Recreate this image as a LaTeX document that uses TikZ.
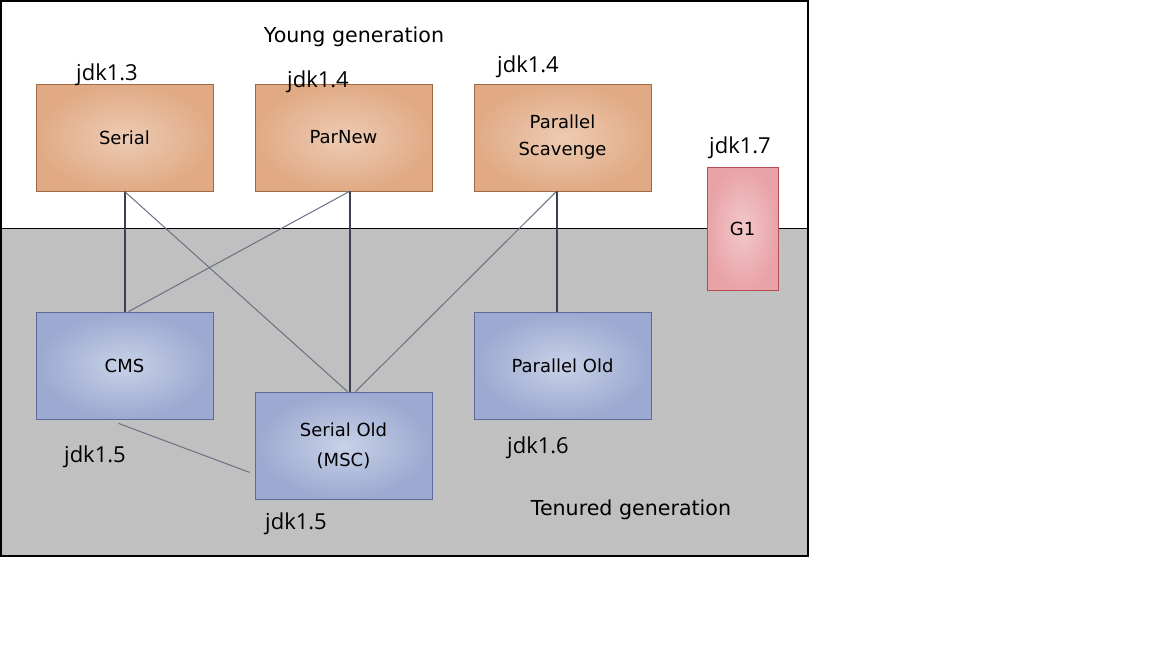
\documentclass[tikz,border=0pt]{standalone}
\usepackage{fontspec}
\setmainfont{Open Sans}
\newfontfamily\comicfont{DejaVu Sans}

\definecolor{youngin}{HTML}{EDCBB4}
\definecolor{youngout}{HTML}{E1AA84}
\definecolor{youngedge}{HTML}{A06A44}
\definecolor{oldin}{HTML}{C7D1E7}
\definecolor{oldout}{HTML}{9CA9D0}
\definecolor{oldedge}{HTML}{5A6A9A}
\definecolor{gin}{HTML}{F3C8CA}
\definecolor{gout}{HTML}{E8A3A7}
\definecolor{gedge}{HTML}{B84C50}
\definecolor{tenuredbg}{HTML}{C0C0C0}
\definecolor{linedark}{HTML}{3A4152}
\definecolor{linethin}{HTML}{687082}

\tikzset{
  gcbox/.style={draw, minimum width=88.5pt, minimum height=53.5pt,
    align=center, font=\comicfont\fontsize{9}{13.5}\selectfont},
  young/.style={gcbox, draw=youngedge, inner color=youngin, outer color=youngout},
  old/.style={gcbox, draw=oldedge, inner color=oldin, outer color=oldout},
  jdk/.style={font=\fontsize{11}{13}\selectfont, inner sep=0pt},
  gentitle/.style={font=\comicfont\fontsize{10.3}{12}\selectfont},
  heavy/.style={draw=linedark, line width=1pt},
  thin/.style={draw=linethin, line width=0.5pt}
}

\begin{document}
\begin{tikzpicture}[x=0.5pt, y=-0.5pt]
    \useasboundingbox (0,0) rectangle (1152,648);
    \fill[tenuredbg] (1,228) rectangle (808,556);
    \draw[line width=0.5pt] (1,228) -- (808,228);
    \draw[line width=1pt] (1,1) rectangle (808,556);

    \node[gentitle] (youngtitle) at (354,37) {Young generation};
    \node[gentitle] (tenuredtitle) at (631,510) {Tenured generation};

    \node[young] (serial) at (124.5,137.5) {Serial};
    \node[young] (parnew) at (343.5,137.5) {ParNew};
    \node[young] (pscavenge) at (562.5,137.5) {Parallel\\Scavenge};
    \node[gcbox, draw=gedge, inner color=gin, outer color=gout,
      minimum width=35.5pt, minimum height=61.5pt] (g1) at (742.5,228.5) {G1};
    \node[old] (cms) at (124.5,365.5) {CMS};
    \node[old] (serialold) at (343.5,445.5) {Serial Old\\[1.5pt](MSC)};
    \node[old] (parold) at (562.5,365.5) {Parallel Old};

    \node[jdk] (jdkserial) at (107,75) {jdk1.3};
    \node[jdk] (jdkparnew) at (318,82) {jdk1.4};
    \node[jdk] (jdkpscavenge) at (528,67) {jdk1.4};
    \node[jdk] (jdkgone) at (740,148) {jdk1.7};
    \node[jdk] (jdkcms) at (95,457) {jdk1.5};
    \node[jdk] (jdkserialold) at (296,524) {jdk1.5};
    \node[jdk] (jdkparold) at (538,448) {jdk1.6};

    \draw[heavy] (serial.south) -- (cms.north);
    \draw[heavy] ([xshift=3pt]parnew.south) -- ([xshift=3pt]serialold.north);
    \draw[heavy] ([xshift=-3pt]pscavenge.south) -- ([xshift=-3pt]parold.north);
    \draw[thin] (serial.south) -- ([xshift=2pt]serialold.north);
    \draw[thin] ([xshift=3pt]parnew.south) -- ([xshift=2pt]cms.north);
    \draw[thin] ([xshift=-3pt]pscavenge.south) -- ([xshift=6pt]serialold.north);
    \draw[thin] ([shift={(-6,4)}]cms.south) -- ([shift={(-5,-27)}]serialold.south west);
\end{tikzpicture}
\end{document}
